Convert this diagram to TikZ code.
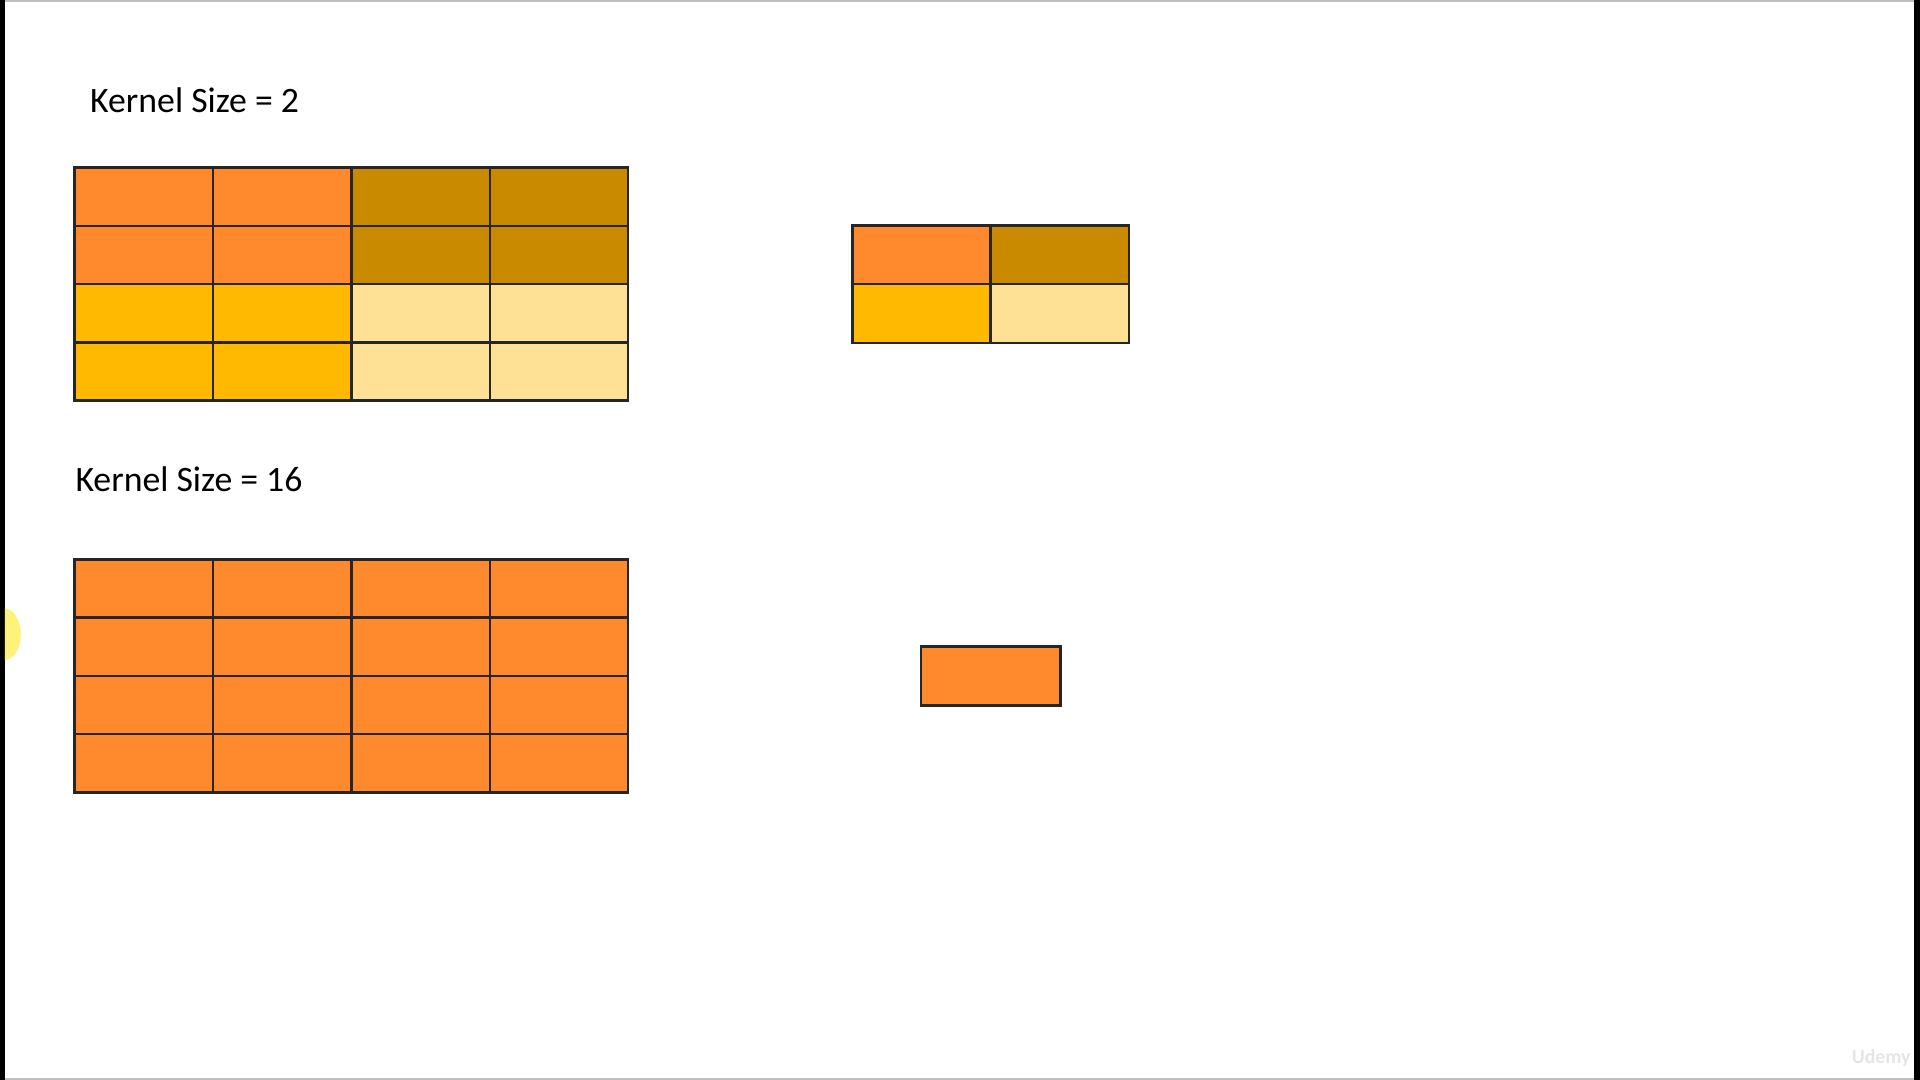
\documentclass[tikz,border=0pt]{standalone}
\usepackage{fontspec}
\setmainfont{Carlito}
\usetikzlibrary{positioning}
\definecolor{orangec}{HTML}{FF8A2D}
\definecolor{goldc}{HTML}{C98A00}
\definecolor{ambc}{HTML}{FFB900}
\definecolor{palec}{HTML}{FFE196}
\definecolor{cursorc}{HTML}{FFF27A}

\begin{document}
\begin{tikzpicture}[
  x=0.01cm, y=-0.01cm,
  cell/.style={draw=black!85, line width=0.6pt},
  title/.style={font=\fontsize{8.3}{10}\selectfont, anchor=base west, inner sep=0pt},
  wmark/.style={font=\fontsize{4.6}{5}\bfseries\selectfont, text=black!10, inner sep=0pt}
]
  \useasboundingbox (0,0) rectangle (1568,882);
  \fill[white] (0,0) rectangle (1568,882);
  % screen edges
  \fill[black] (0,0) rectangle (4,882);
  \fill[black] (1563,0) rectangle (1568,882);
  \fill[black!25] (4,0) rectangle (1563,2);
  \fill[black!25] (4,880) rectangle (1563,882);

  % kernel size 2
  \node[title] (k2) at (73,92) {Kernel Size = 2};
  \foreach \qx/\qy/\col in {0/0/orangec, 2/0/goldc, 0/2/ambc, 2/2/palec}
    \foreach \c in {0,1}
      \foreach \r in {0,1}
        \filldraw[cell, fill=\col] ({61+113*(\qx+\c)},{137+47.5*(\qy+\r)}) rectangle ++(113,47.5);

  % pooled output
  \foreach \c/\r/\col in {0/0/orangec, 1/0/goldc, 0/1/ambc, 1/1/palec}
    \filldraw[cell, fill=\col] ({696+113*\c},{184+48*\r}) rectangle ++(113,48);

  % kernel size 16
  \node[title] (k16) at (61,401) {Kernel Size = 16};
  \foreach \c in {0,...,3}
    \foreach \r in {0,...,3}
      \filldraw[cell, fill=orangec] ({61+113*\c},{457+47.5*\r}) rectangle ++(113,47.5);

  \filldraw[cell, fill=orangec] (752,528) rectangle (866,576);

  % cursor highlight
  \begin{scope}
    \clip (4,480) rectangle (40,560);
    \fill[cursorc] (4,518) ellipse[x radius=13, y radius=21];
  \end{scope}

  \node[wmark, anchor=east] (logo) at (1561,864) {Udemy};
\end{tikzpicture}
\end{document}
